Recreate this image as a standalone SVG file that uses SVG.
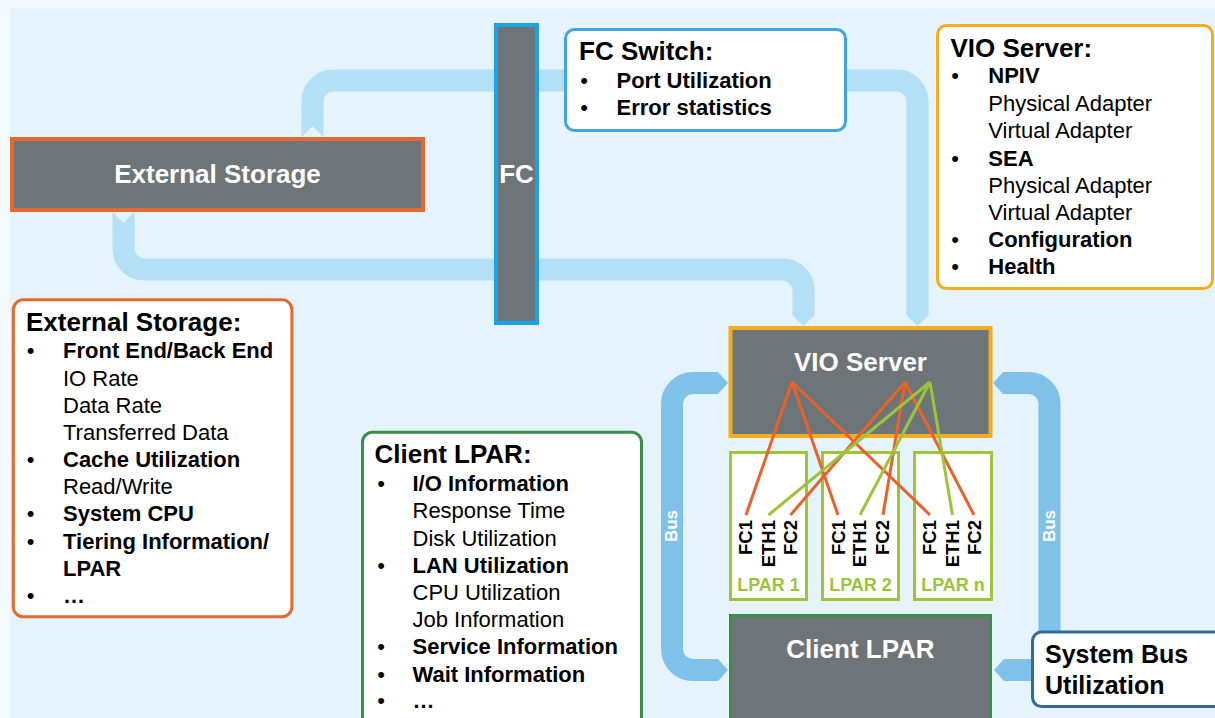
<svg xmlns="http://www.w3.org/2000/svg" width="1215" height="718" viewBox="0 0 1215 718">
<defs>
<style>
.t{font-family:"Liberation Sans",Arial,sans-serif}
.nodeLbl{font-family:"Liberation Sans",Arial,sans-serif;font-weight:bold;font-size:26px;fill:#ffffff;text-anchor:middle}
.ttl{font-family:"Liberation Sans",Arial,sans-serif;font-weight:bold;font-size:26px;fill:#000}
.b{font-family:"Liberation Sans",Arial,sans-serif;font-weight:bold;font-size:22px;fill:#000}
.r{font-family:"Liberation Sans",Arial,sans-serif;font-size:22px;fill:#000}
.bul{font-family:"Liberation Sans",Arial,sans-serif;font-size:22px;fill:#000;text-anchor:middle}
.port{font-family:"Liberation Sans",Arial,sans-serif;font-weight:bold;font-size:18.5px;fill:#000;text-anchor:end}
.lpar{font-family:"Liberation Sans",Arial,sans-serif;font-weight:bold;font-size:18px;fill:#9cc43a;text-anchor:middle}
.bus{font-family:"Liberation Sans",Arial,sans-serif;font-weight:bold;font-size:17px;fill:#ffffff;text-anchor:middle}
.gray{fill:#6d7578}
.pipeL{fill:none;stroke:#b3e0f6;stroke-width:22}
.pipeLf{fill:#b3e0f6}
.pipeB{fill:none;stroke:#80c1ea;stroke-width:22}
.pipeBf{fill:#80c1ea}
.box{fill:#ffffff;stroke-width:3}
.lpbox{fill:#ffffff;stroke:#a0c437;stroke-width:3}
.or{stroke:#e8622a;stroke-width:3;fill:none}
.gr{stroke:#9cc43a;stroke-width:3;fill:none}
</style>
</defs>
<rect x="0" y="0" width="1215" height="718" fill="#f4fafe"/>
<rect x="10" y="8" width="1205" height="710" fill="#e4f3fc"/>

<g id="connectors">
  <!-- storage top to VIO -->
  <path class="pipeL" d="M312.5,120 V101.5 A21,21 0 0 1 333.5,80.5 H896.5 A21,21 0 0 1 917.5,101.5 V314"/>
  <polygon class="pipeLf" points="301.5,137 312.5,126 323.5,137 323.5,119 301.5,119"/>
  <polygon class="pipeLf" points="906.5,313 928.5,313 928.5,315 917.5,326 906.5,315"/>
  <!-- storage bottom to VIO -->
  <path class="pipeL" d="M123.5,229 V248.5 A21,21 0 0 0 144.5,269.5 H782.5 A21,21 0 0 1 803.5,290.5 V314"/>
  <polygon class="pipeLf" points="112.5,212 123.5,223 134.5,212 134.5,230 112.5,230"/>
  <polygon class="pipeLf" points="792.5,313 814.5,313 814.5,315 803.5,326 792.5,315"/>
  <!-- left bus -->
  <path class="pipeB" d="M718,383 H693 A21,21 0 0 0 672,404 V649 A21,21 0 0 0 693,670 H718"/>
  <polygon class="pipeBf" points="717,372 718,372 728,383 718,394 717,394"/>
  <polygon class="pipeBf" points="717,659 718,659 728,670 718,681 717,681"/>
  <text class="bus" transform="translate(677,526) rotate(-90)">Bus</text>
  <!-- right bus -->
  <path class="pipeB" d="M1003,383 H1028.5 A21,21 0 0 1 1049.5,404 V650"/>
  <polygon class="pipeBf" points="1004,372 1003,372 993,383 1003,394 1004,394"/>
  <path class="pipeB" d="M1036,670 H1005"/>
  <polygon class="pipeBf" points="1006,659 1004,659 994,670 1004,681 1006,681"/>
  <text class="bus" transform="translate(1055,526) rotate(-90)">Bus</text>
</g>

<g id="node-external-storage">
  <rect x="12" y="139" width="411" height="71" class="gray" stroke="#e5692f" stroke-width="4"/>
  <text class="nodeLbl" x="217.5" y="183">External Storage</text>
</g>

<g id="node-fc">
  <rect x="496" y="25" width="41" height="298" class="gray" stroke="#1aa3e8" stroke-width="4"/>
  <text class="nodeLbl" x="516.5" y="183">FC</text>
</g>

<g id="node-vio-server">
  <rect x="730.5" y="328" width="260" height="108" class="gray" stroke="#f5ad1f" stroke-width="4"/>
  <text class="nodeLbl" x="860.5" y="371">VIO Server</text>
</g>

<g id="node-lpar1">
  <rect x="730.5" y="452.5" width="76" height="147" class="lpbox"/>
  <text class="port" transform="translate(752,520) rotate(-90)">FC1</text>
  <text class="port" transform="translate(774.5,520) rotate(-90)">ETH1</text>
  <text class="port" transform="translate(796.5,520) rotate(-90)">FC2</text>
  <text class="lpar" x="768.5" y="590.5">LPAR 1</text>
</g>

<g id="node-lpar2">
  <rect x="822.5" y="452.5" width="76" height="147" class="lpbox"/>
  <text class="port" transform="translate(844.5,520) rotate(-90)">FC1</text>
  <text class="port" transform="translate(866,520) rotate(-90)">ETH1</text>
  <text class="port" transform="translate(889,520) rotate(-90)">FC2</text>
  <text class="lpar" x="860.5" y="590.5">LPAR 2</text>
</g>

<g id="node-lparn">
  <rect x="914.5" y="452.5" width="77" height="147" class="lpbox"/>
  <text class="port" transform="translate(936,520) rotate(-90)">FC1</text>
  <text class="port" transform="translate(958.5,520) rotate(-90)">ETH1</text>
  <text class="port" transform="translate(981,520) rotate(-90)">FC2</text>
  <text class="lpar" x="953" y="590.5">LPAR n</text>
</g>

<g id="node-client-lpar">
  <rect x="730.5" y="615.5" width="260" height="120" class="gray" stroke="#3a8f47" stroke-width="3"/>
  <text class="nodeLbl" x="860.5" y="658">Client LPAR</text>
</g>

<g id="connectors-adapters">
  <line class="or" x1="792" y1="382" x2="746" y2="515"/>
  <line class="or" x1="792" y1="382" x2="838" y2="515"/>
  <line class="or" x1="792" y1="382" x2="930" y2="515"/>
  <line class="or" x1="905" y1="382" x2="790.5" y2="515"/>
  <line class="or" x1="905" y1="382" x2="883" y2="515"/>
  <line class="or" x1="905" y1="382" x2="974" y2="515"/>
  <line class="gr" x1="930" y1="382" x2="768.5" y2="515"/>
  <line class="gr" x1="930" y1="382" x2="860" y2="515"/>
  <line class="gr" x1="930" y1="382" x2="952.5" y2="515"/>
</g>

<g id="info-fc-switch">
  <rect x="565.5" y="29.5" width="280" height="101" rx="9" class="box" stroke="#41a5df"/>
  <text class="ttl" x="579" y="60">FC Switch:</text>
  <text class="bul" x="584" y="87.5">•</text><text class="b" x="616.5" y="87.5">Port Utilization</text>
  <text class="bul" x="584" y="115">•</text><text class="b" x="616.5" y="115">Error statistics</text>
</g>

<g id="info-vio-server">
  <rect x="937.5" y="25.5" width="275" height="263" rx="9" class="box" stroke="#f5ad1f"/>
  <text class="ttl" x="950.5" y="57.3">VIO Server:</text>
  <text class="bul" x="955" y="83.3">•</text><text class="b" x="988.3" y="83.3">NPIV</text>
  <text class="r" x="988.3" y="110.7">Physical Adapter</text>
  <text class="r" x="988.3" y="138">Virtual Adapter</text>
  <text class="bul" x="955" y="165.7">•</text><text class="b" x="988.3" y="165.7">SEA</text>
  <text class="r" x="988.3" y="193.3">Physical Adapter</text>
  <text class="r" x="988.3" y="220">Virtual Adapter</text>
  <text class="bul" x="955" y="247.3">•</text><text class="b" x="988.3" y="247.3">Configuration</text>
  <text class="bul" x="955" y="274">•</text><text class="b" x="988.3" y="274">Health</text>
</g>

<g id="info-external-storage">
  <rect x="13.3" y="299.8" width="278.6" height="317" rx="10" class="box" stroke="#e5692f"/>
  <text class="ttl" x="26" y="330.7">External Storage:</text>
  <text class="bul" x="30.5" y="358.3">•</text><text class="b" x="63" y="358.3">Front End/Back End</text>
  <text class="r" x="63" y="385.7">IO Rate</text>
  <text class="r" x="63" y="413.3">Data Rate</text>
  <text class="r" x="63" y="440">Transferred Data</text>
  <text class="bul" x="30.5" y="466.7">•</text><text class="b" x="63" y="466.7">Cache Utilization</text>
  <text class="r" x="63" y="494">Read/Write</text>
  <text class="bul" x="30.5" y="521">•</text><text class="b" x="63" y="521">System CPU</text>
  <text class="bul" x="30.5" y="549">•</text><text class="b" x="63" y="549">Tiering Information/</text>
  <text class="b" x="63" y="576">LPAR</text>
  <text class="bul" x="30.5" y="602.7">•</text><text class="b" x="63" y="602.7">…</text>
</g>

<g id="info-client-lpar">
  <rect x="362.5" y="432.2" width="279" height="300" rx="10" class="box" stroke="#3a8f47"/>
  <text class="ttl" x="374.6" y="463.3">Client LPAR:</text>
  <text class="bul" x="381" y="490.7">•</text><text class="b" x="412.5" y="490.7">I/O Information</text>
  <text class="r" x="412.5" y="518.3">Response Time</text>
  <text class="r" x="412.5" y="546">Disk Utilization</text>
  <text class="bul" x="381" y="573.3">•</text><text class="b" x="412.5" y="573.3">LAN Utilization</text>
  <text class="r" x="412.5" y="600">CPU Utilization</text>
  <text class="r" x="412.5" y="626.7">Job Information</text>
  <text class="bul" x="381" y="654">•</text><text class="b" x="412.5" y="654">Service Information</text>
  <text class="bul" x="381" y="681.7">•</text><text class="b" x="412.5" y="681.7">Wait Information</text>
  <text class="bul" x="381" y="708.3">•</text><text class="b" x="412.5" y="708.3">…</text>
</g>

<g id="info-system-bus">
  <rect x="1032.5" y="632" width="200" height="74.5" rx="9" class="box" stroke="#336a9e"/>
  <text class="b" style="font-size:25px" x="1045" y="663">System Bus</text>
  <text class="b" style="font-size:25px" x="1045" y="694">Utilization</text>
</g>
</svg>
